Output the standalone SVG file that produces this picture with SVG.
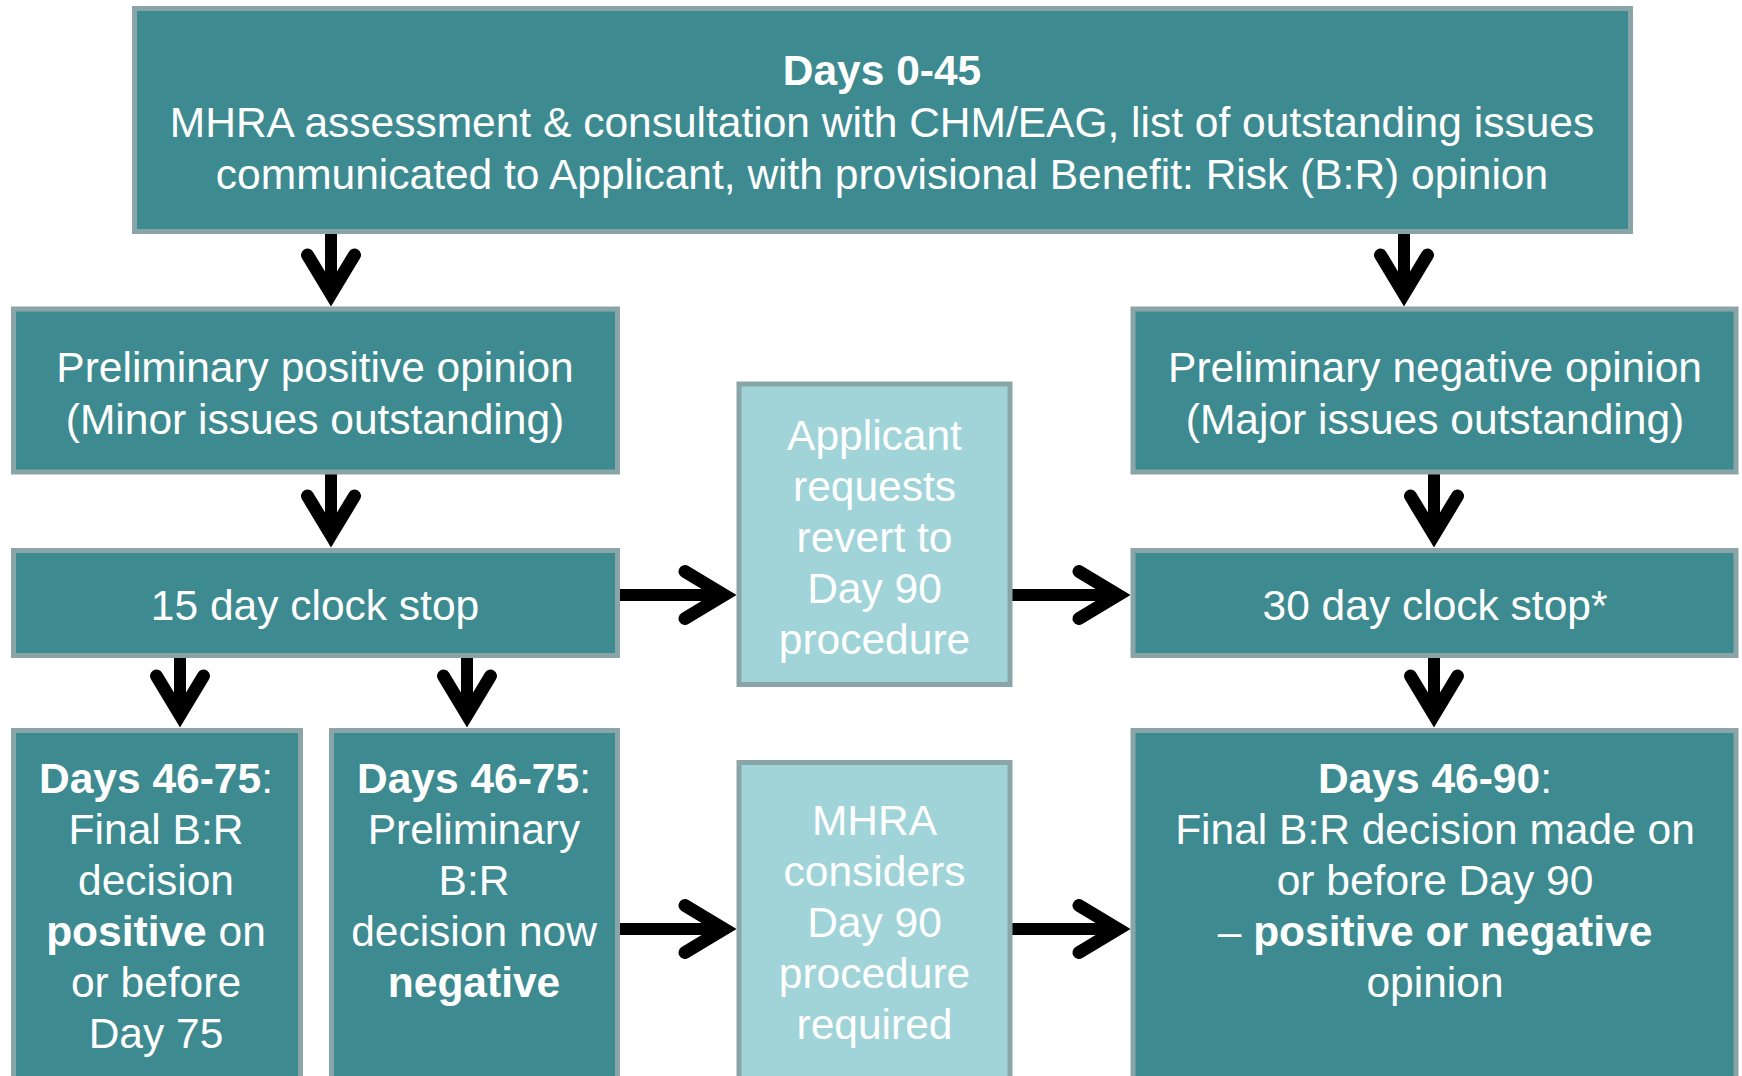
<svg xmlns="http://www.w3.org/2000/svg" width="1742" height="1076" viewBox="0 0 1742 1076">
<style>
.box{fill:#3d8b91;stroke:#8aa5a7;stroke-width:5}
.lbox{fill:#a0d4d8;stroke:#8aa5a7;stroke-width:5}
text{font-family:"Liberation Sans",Arial,sans-serif;font-size:42.5px;fill:#ffffff;text-anchor:middle}
.b{font-weight:bold}
.stem{stroke:#000;stroke-width:12;fill:none}
.head{stroke:#000;stroke-width:13;fill:none;stroke-linecap:round;stroke-linejoin:miter;stroke-miterlimit:10}
</style>
<rect width="1742" height="1076" fill="#ffffff"/>
<g id="connectors">
  <line class="stem" x1="331" y1="234" x2="331" y2="294"/>
  <polyline class="head" points="307.5,255 331,294 354.5,255"/>
  <line class="stem" x1="1404" y1="234" x2="1404" y2="294"/>
  <polyline class="head" points="1380.5,255 1404,294 1427.5,255"/>
  <line class="stem" x1="331" y1="474" x2="331" y2="535"/>
  <polyline class="head" points="307.5,496 331,535 354.5,496"/>
  <line class="stem" x1="1434" y1="474" x2="1434" y2="535"/>
  <polyline class="head" points="1410.5,496 1434,535 1457.5,496"/>
  <line class="stem" x1="180" y1="658" x2="180" y2="715"/>
  <polyline class="head" points="156.5,676 180,715 203.5,676"/>
  <line class="stem" x1="467" y1="658" x2="467" y2="715"/>
  <polyline class="head" points="443.5,676 467,715 490.5,676"/>
  <line class="stem" x1="1434" y1="658" x2="1434" y2="715"/>
  <polyline class="head" points="1410.5,676 1434,715 1457.5,676"/>
  <line class="stem" x1="620" y1="595" x2="724" y2="595"/>
  <polyline class="head" points="685,571.5 724,595 685,618.5"/>
  <line class="stem" x1="1012" y1="595" x2="1118" y2="595"/>
  <polyline class="head" points="1079,571.5 1118,595 1079,618.5"/>
  <line class="stem" x1="620" y1="929" x2="724" y2="929"/>
  <polyline class="head" points="685,905.5 724,929 685,952.5"/>
  <line class="stem" x1="1012" y1="929" x2="1118" y2="929"/>
  <polyline class="head" points="1079,905.5 1118,929 1079,952.5"/>
</g>
<g id="top">
  <rect class="box" x="134.5" y="8.5" width="1496" height="223"/>
  <text x="882" y="85" class="b">Days 0-45</text>
  <text x="882" y="137">MHRA assessment &amp; consultation with CHM/EAG, list of outstanding issues</text>
  <text x="882" y="189">communicated to Applicant, with provisional Benefit: Risk (B:R) opinion</text>
</g>
<g id="prelim-positive">
  <rect class="box" x="13.5" y="309" width="604" height="163"/>
  <text x="315" y="382">Preliminary positive opinion</text>
  <text x="315" y="434">(Minor issues outstanding)</text>
</g>
<g id="clock-15">
  <rect class="box" x="13.5" y="550.5" width="604" height="105"/>
  <text x="315" y="620">15 day clock stop</text>
</g>
<g id="days-46-75-final">
  <rect class="box" x="13.5" y="730.5" width="287" height="400"/>
  <text x="156" y="793"><tspan class="b">Days 46-75</tspan>:</text>
  <text x="156" y="844">Final B:R</text>
  <text x="156" y="895">decision</text>
  <text x="156" y="946"><tspan class="b">positive</tspan> on</text>
  <text x="156" y="997">or before</text>
  <text x="156" y="1048">Day 75</text>
</g>
<g id="days-46-75-prelim">
  <rect class="box" x="331.5" y="730.5" width="286" height="400"/>
  <text x="474" y="793"><tspan class="b">Days 46-75</tspan>:</text>
  <text x="474" y="844">Preliminary</text>
  <text x="474" y="895">B:R</text>
  <text x="474" y="946">decision now</text>
  <text x="474" y="997" class="b">negative</text>
</g>
<g id="applicant-requests">
  <rect class="lbox" x="739" y="384" width="271" height="300.5"/>
  <text x="874.5" y="450">Applicant</text>
  <text x="874.5" y="501">requests</text>
  <text x="874.5" y="552">revert to</text>
  <text x="874.5" y="603">Day 90</text>
  <text x="874.5" y="654">procedure</text>
</g>
<g id="mhra-considers">
  <rect class="lbox" x="739" y="762.5" width="271" height="400"/>
  <text x="874.5" y="835">MHRA</text>
  <text x="874.5" y="886">considers</text>
  <text x="874.5" y="937">Day 90</text>
  <text x="874.5" y="988">procedure</text>
  <text x="874.5" y="1039">required</text>
</g>
<g id="prelim-negative">
  <rect class="box" x="1133" y="309" width="603" height="163"/>
  <text x="1435" y="382">Preliminary negative opinion</text>
  <text x="1435" y="434">(Major issues outstanding)</text>
</g>
<g id="clock-30">
  <rect class="box" x="1133" y="550.5" width="603" height="105"/>
  <text x="1435" y="620">30 day clock stop*</text>
</g>
<g id="days-46-90">
  <rect class="box" x="1133" y="730.5" width="603" height="400"/>
  <text x="1435" y="793"><tspan class="b">Days 46-90</tspan>:</text>
  <text x="1435" y="844">Final B:R decision made on</text>
  <text x="1435" y="895">or before Day 90</text>
  <text x="1435" y="946">– <tspan class="b">positive or negative</tspan></text>
  <text x="1435" y="997">opinion</text>
</g>
</svg>
